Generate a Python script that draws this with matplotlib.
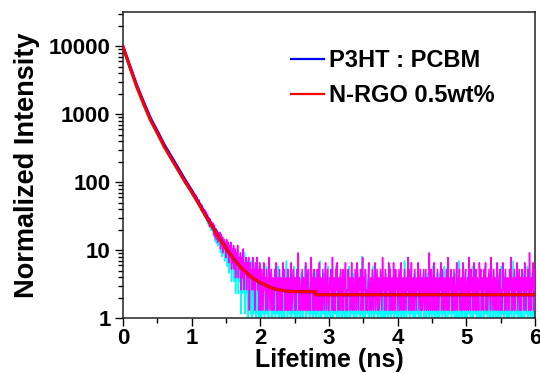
import numpy as np
import matplotlib
matplotlib.use("Agg")
import matplotlib.pyplot as plt
from matplotlib.ticker import LogLocator, MultipleLocator, NullFormatter, FixedLocator

plt.rcParams['font.family'] = ['Liberation Sans', 'DejaVu Sans']
plt.rcParams['font.weight'] = 'bold'

# ---------------- data ----------------
labels = ["P3HT : PCBM", "N-RGO 0.5wt%"]

# early decay (0 .. 0.95 ns, 0.05 ns step), normalized intensity
early_t = np.round(np.arange(0.0, 0.951, 0.05), 3)
early_magenta = [9700, 6900, 4850, 3520, 2480, 1890, 1390, 1100, 800, 660,
                 515, 430, 322, 280, 215, 190, 145, 130, 97, 90]
early_cyan = [9600, 7050, 4950, 3550, 2560, 1830, 1440, 1060, 830, 630,
              540, 405, 345, 258, 232, 176, 158, 118, 107, 80]

# mid decay (1.00 .. 1.99 ns, 0.01 ns step), photon counts
mid_t = np.round(np.arange(1.0, 1.9951, 0.01), 3)
mid_magenta_counts = [
    56, 50, 54, 47, 52, 44, 49, 41, 46, 40,
    38, 42, 33, 37, 30, 35, 28, 32, 26, 30,
    25, 28, 21, 26, 20, 23, 17, 22, 18, 20,
    16, 19, 13, 18, 12, 16, 11, 15, 10, 14,
    11, 14, 8, 13, 9, 12, 7, 11, 8, 10,
    6, 11, 7, 10, 5, 9, 6, 10, 4, 8,
    5, 9, 4, 8, 3, 7, 5, 9, 3, 6,
    4, 7, 2, 6, 3, 8, 2, 5, 4, 6,
    2, 5, 3, 6, 1, 5, 3, 4, 2, 6,
    2, 4, 1, 5, 3, 6, 2, 4, 1, 5]
mid_cyan_counts = [
    63, 58, 60, 52, 57, 50, 53, 46, 49, 44,
    41, 45, 37, 42, 33, 38, 31, 35, 28, 33,
    26, 31, 23, 28, 21, 26, 19, 24, 17, 22,
    17, 21, 14, 20, 12, 18, 11, 16, 10, 15,
    11, 15, 8, 14, 7, 13, 9, 12, 6, 11,
    7, 11, 5, 10, 4, 9, 6, 10, 3, 8,
    5, 9, 3, 8, 2, 7, 4, 9, 2, 6,
    3, 7, 1, 6, 2, 5, 3, 8, 1, 5,
    2, 6, 0, 5, 2, 4, 1, 6, 0, 4,
    1, 5, 2, 4, 0, 3, 1, 5, 0, 3]

# tail (2.00 .. 6.00 ns, 0.01 ns step), photon counts
tail_t = np.round(np.arange(2.0, 6.0001, 0.01), 3)
tail_magenta_counts = [
    3, 1, 4, 2, 1, 5, 2, 3, 1, 4, 2, 1, 3, 6, 1, 2, 4, 1, 3, 2,
    1, 4, 2, 5, 1, 3, 1, 2, 4, 1, 3, 2, 1, 5, 2, 4, 1, 2, 3, 1,
    4, 1, 2, 3, 1, 5, 1, 2, 4, 2, 1, 3, 1, 4, 2, 7, 1, 3, 2, 1,
    2, 4, 1, 3, 2, 1, 5, 2, 1, 3, 4, 1, 2, 1, 6, 2, 3, 1, 4, 1,
    3, 2, 1, 4, 1, 2, 5, 1, 3, 2, 1, 4, 2, 1, 3, 5, 1, 2, 4, 1,
    1, 3, 2, 4, 1, 6, 2, 1, 3, 1, 4, 2, 5, 1, 2, 3, 1, 4, 2, 1,
    4, 1, 2, 3, 5, 1, 2, 1, 4, 2, 3, 1, 2, 5, 1, 3, 2, 1, 4, 2,
    1, 5, 2, 1, 3, 2, 4, 1, 2, 6, 1, 3, 2, 4, 1, 2, 1, 3, 5, 1,
    2, 3, 1, 4, 2, 1, 3, 5, 1, 2, 4, 1, 3, 1, 2, 4, 2, 1, 6, 2,
    3, 1, 4, 2, 1, 3, 2, 5, 1, 4, 1, 2, 3, 1, 5, 2, 1, 4, 2, 3,
    1, 2, 4, 1, 3, 5, 1, 2, 3, 1, 4, 2, 1, 3, 2, 6, 1, 4, 2, 1,
    5, 1, 2, 3, 1, 4, 2, 1, 3, 2, 5, 1, 2, 4, 1, 3, 1, 2, 4, 1,
    2, 4, 1, 3, 2, 1, 7, 2, 1, 4, 3, 1, 2, 5, 1, 2, 3, 1, 4, 2,
    1, 3, 2, 5, 1, 4, 2, 1, 3, 1, 2, 4, 1, 6, 2, 1, 3, 2, 4, 1,
    3, 1, 4, 2, 1, 2, 5, 1, 3, 2, 4, 1, 2, 3, 1, 5, 2, 1, 3, 4,
    1, 2, 3, 1, 6, 2, 1, 4, 2, 3, 1, 5, 2, 1, 4, 1, 3, 2, 1, 5,
    2, 4, 1, 3, 2, 1, 4, 2, 5, 1, 3, 1, 2, 4, 2, 1, 6, 3, 1, 2,
    4, 1, 3, 2, 1, 5, 2, 1, 3, 4, 1, 2, 1, 5, 2, 3, 1, 4, 2, 1,
    3, 2, 1, 4, 2, 6, 1, 3, 1, 2, 4, 1, 3, 2, 5, 1, 2, 4, 1, 3,
    1, 4, 2, 3, 1, 5, 2, 1, 3, 2, 4, 1, 7, 2, 1, 3, 2, 5, 1, 4,
    2]
tail_cyan_counts = [
    2, 0, 3, 1, 4, 2, 0, 3, 1, 5, 2, 1, 0, 3, 2, 4, 1, 0, 2, 3,
    1, 4, 0, 2, 3, 1, 5, 0, 2, 1, 3, 0, 4, 2, 1, 0, 3, 2, 6, 1,
    0, 2, 3, 1, 4, 0, 2, 1, 3, 5, 0, 1, 2, 4, 0, 3, 1, 2, 0, 4,
    2, 1, 0, 3, 2, 5, 1, 0, 4, 2, 1, 3, 0, 2, 1, 4, 2, 0, 3, 1,
    4, 0, 2, 1, 3, 0, 2, 6, 1, 0, 3, 2, 1, 4, 0, 2, 3, 1, 0, 5,
    1, 3, 0, 2, 4, 1, 0, 3, 2, 1, 5, 0, 2, 1, 3, 0, 4, 2, 1, 0,
    3, 1, 2, 0, 4, 2, 1, 0, 3, 5, 1, 0, 2, 3, 1, 4, 0, 2, 1, 3,
    0, 2, 4, 1, 3, 0, 2, 1, 7, 0, 2, 3, 1, 0, 4, 2, 1, 3, 0, 2,
    1, 3, 0, 2, 5, 1, 0, 2, 3, 1, 4, 0, 2, 1, 3, 0, 2, 4, 1, 0,
    3, 2, 0, 4, 1, 2, 0, 3, 1, 5, 0, 2, 1, 3, 2, 0, 4, 1, 2, 0,
    2, 0, 3, 1, 4, 0, 2, 1, 3, 0, 6, 2, 1, 0, 3, 2, 1, 4, 0, 2,
    1, 3, 2, 0, 4, 1, 0, 2, 3, 1, 5, 0, 2, 1, 0, 3, 2, 4, 1, 0,
    3, 0, 2, 1, 4, 2, 0, 3, 1, 2, 0, 5, 1, 3, 0, 2, 1, 4, 0, 2,
    0, 4, 1, 2, 3, 0, 2, 1, 5, 0, 3, 2, 1, 0, 4, 1, 2, 3, 0, 1,
    2, 1, 3, 0, 4, 2, 1, 0, 3, 6, 0, 2, 1, 3, 0, 2, 4, 1, 0, 3,
    1, 0, 2, 4, 1, 3, 0, 2, 1, 5, 0, 3, 2, 1, 4, 0, 2, 1, 3, 0,
    4, 1, 0, 2, 3, 1, 0, 5, 2, 1, 3, 0, 2, 4, 1, 0, 3, 2, 1, 0,
    2, 3, 1, 0, 4, 2, 0, 3, 1, 2, 0, 5, 1, 3, 2, 0, 4, 1, 2, 0,
    1, 2, 0, 3, 1, 4, 0, 2, 6, 1, 0, 3, 2, 1, 4, 0, 2, 3, 1, 0,
    3, 0, 2, 4, 1, 0, 3, 2, 1, 5, 0, 2, 1, 3, 0, 4, 2, 1, 0, 3,
    2]

magenta_unit = 1.3    # normalized intensity of one count
cyan_unit = 1.15
zero_floor = 0.8      # zero counts drawn below the axis floor

# fitted curves
fit_t = list(np.round(np.arange(0.0, 2.801, 0.1), 2)) + [2.8, 6.0]
fit_blue = [9900, 5100, 2650, 1500, 870, 560, 355, 240, 162, 109, 75, 50, 33,
            22.5, 15.4, 10.7, 7.7, 5.8, 4.6, 3.8, 3.3, 2.95, 2.69, 2.57, 2.48,
            2.45, 2.44, 2.44, 2.44, 2.2, 2.2]
fit_red = [9800, 4900, 2510, 1410, 813, 525, 331, 224, 151, 102, 71, 48, 32,
           21.9, 15.1, 10.5, 7.6, 5.75, 4.57, 3.80, 3.31, 2.95, 2.69, 2.57, 2.48,
           2.45, 2.44, 2.44, 2.44, 2.2, 2.2]

x_ticks = [0, 1, 2, 3, 4, 5, 6]
y_ticks = [1, 10, 100, 1000, 10000]

# ---------------- assemble series ----------------
def counts_to_values(counts, unit):
    c = np.asarray(counts, dtype=float)
    v = c * unit
    v[c == 0] = zero_floor
    return v

cyan_t = np.concatenate([early_t, mid_t, tail_t])
cyan_v = np.concatenate([early_cyan, counts_to_values(mid_cyan_counts, cyan_unit),
                         counts_to_values(tail_cyan_counts, cyan_unit)])
mag_t = np.concatenate([early_t, mid_t, tail_t])
mag_v = np.concatenate([early_magenta, counts_to_values(mid_magenta_counts, magenta_unit),
                        counts_to_values(tail_magenta_counts, magenta_unit)])

# ---------------- plot ----------------
fig = plt.figure(figsize=(5.4, 3.73), dpi=100)
ax = fig.add_axes([123/540, 1-318/373, (535-123)/540, (318-12)/373])

ax.plot(cyan_t, cyan_v, color='#00FFFF', lw=1.1, zorder=2)
ax.plot(mag_t, mag_v, color='#FF00FF', lw=1.1, zorder=3)
ax.plot(fit_t, fit_blue, color='#0000FF', lw=2.2, zorder=4, label=labels[0])
ax.plot(fit_t, fit_red, color='#FF0000', lw=2.2, zorder=5, label=labels[1])

ax.set_yscale('log')
ax.set_xlim(0, 6)
ax.set_ylim(1, 32000)

ax.xaxis.set_major_locator(FixedLocator(x_ticks))
ax.xaxis.set_minor_locator(MultipleLocator(0.5))
ax.yaxis.set_major_locator(FixedLocator(y_ticks))
ax.yaxis.set_minor_locator(LogLocator(base=10, subs=np.arange(2, 10)))
ax.yaxis.set_minor_formatter(NullFormatter())
ax.set_yticklabels([str(v) for v in y_ticks])
ax.set_xticklabels([str(v) for v in x_ticks])

ax.tick_params(axis='both', which='major', direction='out', length=6, width=1,
               labelsize=16, pad=3, colors='black')
ax.tick_params(axis='x', which='major', pad=1.5)
ax.tick_params(axis='both', which='minor', direction='out', length=3.5, width=1)
ax.tick_params(top=False, right=False, which='both')
for lab in ax.get_xticklabels() + ax.get_yticklabels():
    lab.set_fontweight('bold')
for s in ax.spines.values():
    s.set_linewidth(1.1)
    s.set_color('#222222')

ax.set_xlabel('Lifetime (ns)', fontsize=18, fontweight='bold', labelpad=-1)
ax.set_ylabel('Normalized Intensity', fontsize=19.5, fontweight='bold', labelpad=6)

leg = ax.legend(loc='upper left', bbox_to_anchor=(291/540, 1-49/373),
                bbox_transform=fig.transFigure, frameon=False,
                prop={'size': 17, 'weight': 'bold'}, handlelength=1.4,
                handletextpad=0.2, labelspacing=0.5, borderpad=0, borderaxespad=0)
for h in leg.get_lines():
    h.set_linewidth(1.6)

fig.savefig('out.png', dpi=100)
